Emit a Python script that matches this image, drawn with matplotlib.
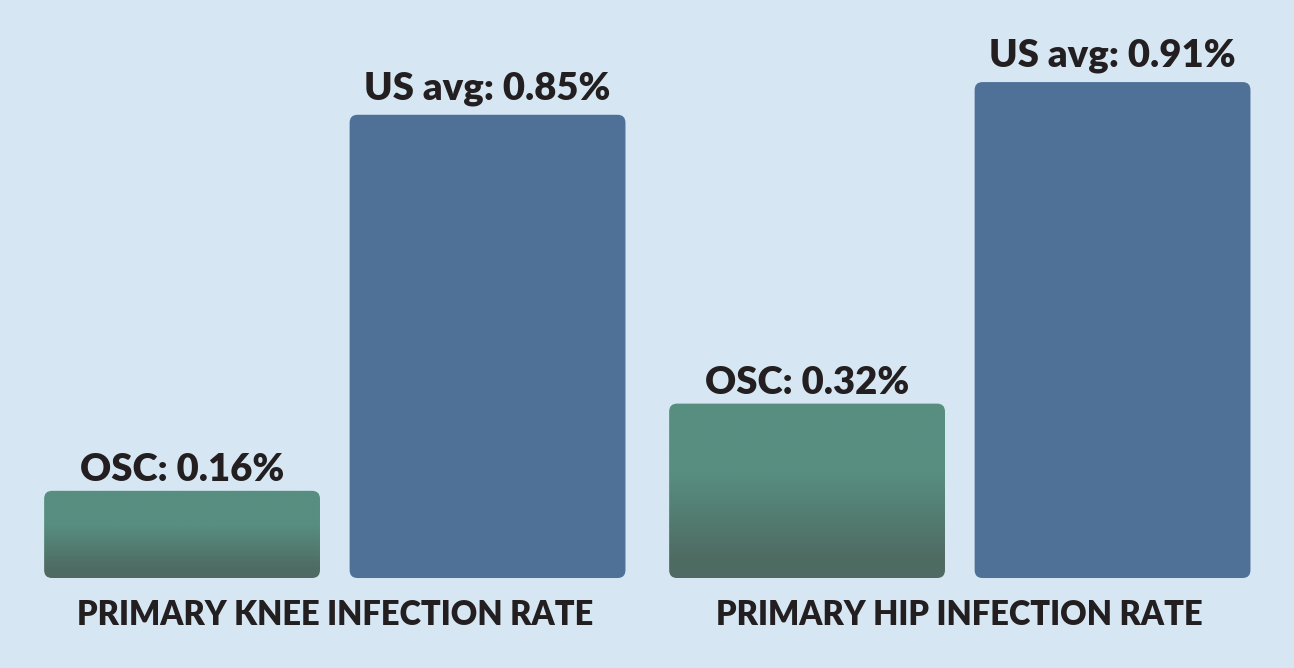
import matplotlib.pyplot as plt
import numpy as np
from matplotlib.patches import FancyBboxPatch
from matplotlib.colors import LinearSegmentedColormap

groups = ["PRIMARY KNEE INFECTION RATE", "PRIMARY HIP INFECTION RATE"]
osc_vals = [0.16, 0.32]
us_vals = [0.85, 0.91]
osc_labels = ["OSC: 0.16%", "OSC: 0.32%"]
us_labels = ["US avg: 0.85%", "US avg: 0.91%"]

bg = "#D6E7F3"
blue = "#4F7097"
txt = "#231F20"
green_cmap = LinearSegmentedColormap.from_list(
    "g", [(0, "#4E6A62"), (0.12, "#4F6C63"), (0.6, "#578E80"), (1, "#578E80")])

fig = plt.figure(figsize=(12.94, 6.68), dpi=100, facecolor=bg)
ax = fig.add_axes([0, 0, 1, 1])
ax.set_facecolor(bg)
ax.set_xlim(-0.596, 3.640)
ax.set_ylim(-0.1651, 1.0606)
ax.axis("off")

width = 0.903
aspect = 305.5 / 545
rad = 0.026
font = dict(family=["Lato", "DejaVu Sans"], weight="heavy", color=txt)

grad = np.linspace(0, 1, 256).reshape(-1, 1)

for i, g in enumerate(groups):
    x0 = i * 2.046
    x1 = x0 + 1.0
    # OSC bar with vertical gradient
    h = osc_vals[i]
    p = FancyBboxPatch((x0 - width / 2, 0), width, h,
                       boxstyle=f"round,pad=0,rounding_size={rad}",
                       mutation_aspect=aspect, fc="none", ec="none")
    ax.add_patch(p)
    im = ax.imshow(grad, cmap=green_cmap, origin="lower", aspect="auto",
                   extent=(x0 - width / 2, x0 + width / 2, 0, h), zorder=2)
    im.set_clip_path(p)
    # US bar
    ax.add_patch(FancyBboxPatch((x1 - width / 2, 0), width, us_vals[i],
                                boxstyle=f"round,pad=0,rounding_size={rad}",
                                mutation_aspect=aspect, fc=blue, ec="none", zorder=2))
    ax.annotate(osc_labels[i], (x0, h), xytext=(0, 7), textcoords="offset points",
                ha="center", va="baseline", fontsize=27.5, **font)
    ax.annotate(us_labels[i], (x1, us_vals[i]), xytext=(0, 11), textcoords="offset points",
                ha="center", va="baseline", fontsize=27.5, **font)
    ax.text((x0 + x1) / 2, -0.068, g, ha="center", va="center", fontsize=23.5, **font)

fig.savefig("out.png", dpi=100, facecolor=bg)
